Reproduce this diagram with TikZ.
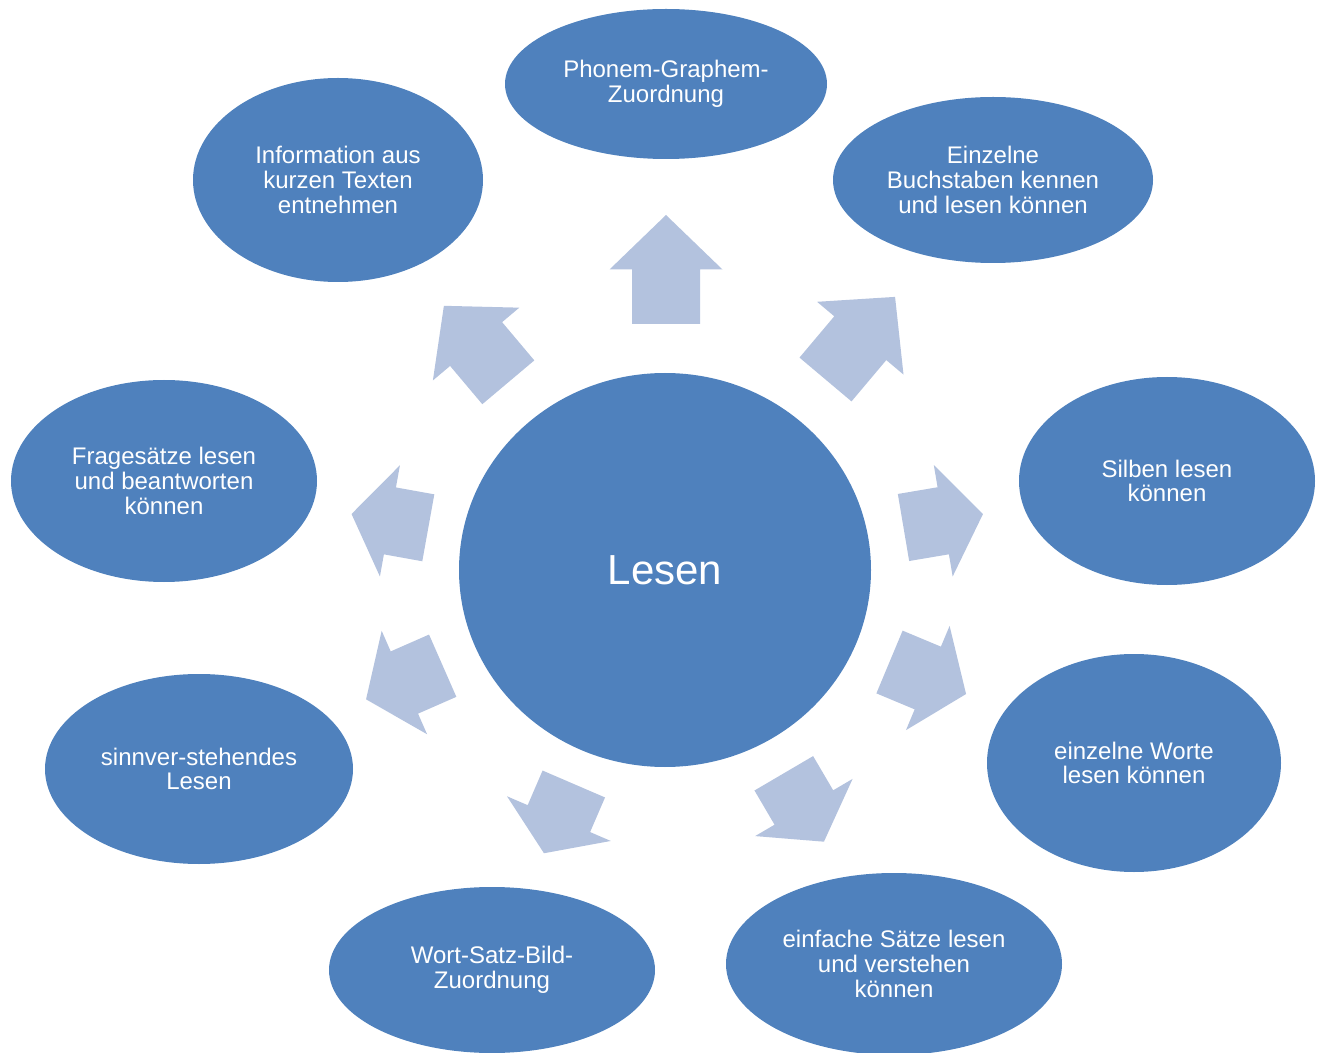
\documentclass[tikz,border=0pt]{standalone}
\usepackage{fontspec}
\setmainfont{Liberation Sans}
\usetikzlibrary{shapes.geometric}
\definecolor{leafblue}{RGB}{79,129,189}
\definecolor{arrowblue}{RGB}{179,194,222}
\tikzset{
  leaf/.style={ellipse, fill=leafblue, text=white, inner sep=0pt, align=center,
    font=\fontsize{12}{12.4}\selectfont},
  hub/.style={leaf, font=\fontsize{21}{24}\selectfont},
  blockarrow/.style={fill=arrowblue}
}
\begin{document}
\begin{tikzpicture}[x=0.5pt, y=-0.5pt]
    \useasboundingbox (0,0) rectangle (1323,1053);
    % centre
    \node[hub, minimum width=206pt, minimum height=197pt] (lesen) at (665,570) {Lesen};
    % outer ellipses
    \node[leaf, minimum width=161pt, minimum height=75pt]  (phonem)   at (666,84)   {Phonem-Graphem-\\Zuordnung};
    \node[leaf, minimum width=160pt, minimum height=83pt]  (buchst)   at (993,180)  {Einzelne\\Buchstaben kennen\\und lesen können};
    \node[leaf, minimum width=148pt, minimum height=104pt] (silben)   at (1167,481) {Silben lesen\\können};
    \node[leaf, minimum width=147pt, minimum height=109pt] (worte)    at (1134,763) {einzelne Worte\\lesen können};
    \node[leaf, minimum width=168pt, minimum height=91pt]  (saetze)   at (894,964)  {einfache Sätze lesen\\und verstehen\\können};
    \node[leaf, minimum width=163pt, minimum height=83pt]  (wsb)      at (492,970)  {Wort-Satz-Bild-\\Zuordnung};
    \node[leaf, minimum width=154pt, minimum height=95pt]  (sinn)     at (199,769)  {sinnver-stehendes\\Lesen};
    \node[leaf, minimum width=153pt, minimum height=101pt] (fragen)   at (164,481)  {Fragesätze lesen\\und beantworten\\können};
    \node[leaf, minimum width=145pt, minimum height=102pt] (info)     at (338,180)  {Information aus\\kurzen Texten\\entnehmen};
    % block arrows: tail x/y, angle, length
    \foreach \x/\y/\a/\l in {666/324/90/109, 825.5/379.5/49.9/108, 903.5/527.5/9.6/80.6,
        889.5/662/-22.7/83, 783.8/773.3/-59.6/79.3, 573.8/784/246.7/75.4,
        442.7/665.7/203.7/83.7, 428.3/527.8/169.8/78, 508.3/382.3/130.1/100} {
      \fill[blockarrow, shift={(\x,\y)}, rotate=\a]
        (0,-34) -- (\l/2,-34) -- (\l/2,-56.5) -- (\l,0) -- (\l/2,56.5) -- (\l/2,34) -- (0,34) -- cycle;
    }
\end{tikzpicture}
\end{document}
